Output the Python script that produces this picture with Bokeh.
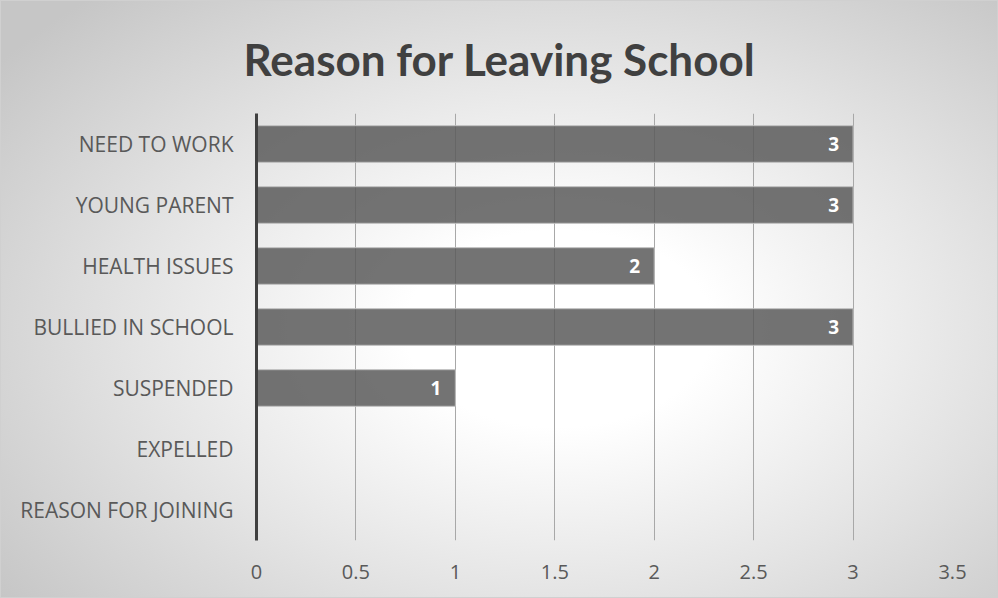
from bokeh.plotting import figure
from bokeh.models import Range1d, FactorRange, ColumnDataSource, LabelSet, FixedTicker
from bokeh.core.properties import value
from bokeh.embed import file_html
from bokeh.resources import INLINE

categories = ["NEED TO WORK", "YOUNG PARENT", "HEALTH ISSUES", "BULLIED IN SCHOOL",
              "SUSPENDED", "EXPELLED", "REASON FOR JOINING"]
values = [3, 3, 2, 3, 1, 0, 0]
x_ticks = [0, 0.5, 1, 1.5, 2, 2.5, 3, 3.5]

src = ColumnDataSource(dict(
    cat=[c for c, v in zip(categories, values) if v > 0],
    val=[v for v in values if v > 0],
    lbl=[str(v) for v in values if v > 0],
))

p = figure(width=998, height=598, output_backend="svg", toolbar_location=None,
           x_range=Range1d(0, 3.5), y_range=FactorRange(factors=categories[::-1]),
           min_border_left=255, min_border_right=47, min_border_top=112, min_border_bottom=59)

p.styles = {"background-image": "radial-gradient(ellipse 70% 75% at 56% 55%, #ffffff 0%, #ffffff 22%, #e4e4e4 60%, #c6c6c6 100%)",
            "border": "1px solid #d0d0d0", "box-sizing": "border-box"}
p.background_fill_alpha = 0
p.border_fill_alpha = 0
p.outline_line_color = None

p.title.text = "Reason for Leaving School"
p.title.text_font = "Lato"
p.title.text_font_style = "bold"
p.title.text_font_size = "44px"
p.title.text_color = "#404040"
p.title.align = "left"
p.title.offset = -13
p.title.standoff = 58

p.hbar(y="cat", right="val", left=0, height=0.6, source=src,
       fill_color="#5a5a5a", fill_alpha=0.85, line_color="#c0c0c0", line_width=1)

labels = LabelSet(x="val", y="cat", text="lbl", source=src, x_offset=-14,
                  text_align="right", text_baseline="middle", text_color="white",
                  text_font=value("Open Sans"), text_font_style="bold", text_font_size="19px")
p.add_layout(labels)

p.xaxis.ticker = FixedTicker(ticks=x_ticks)
p.xaxis.axis_line_color = None
p.xaxis.major_tick_line_color = None
p.xaxis.minor_tick_line_color = None
p.xaxis.major_label_standoff = 18
p.xaxis.major_label_text_font = "Open Sans"
p.xaxis.major_label_text_font_size = "20px"
p.xaxis.major_label_text_color = "#595959"

p.yaxis.axis_line_color = "#404040"
p.yaxis.axis_line_width = 3
p.yaxis.major_tick_line_color = None
p.yaxis.minor_tick_line_color = None
p.yaxis.major_label_standoff = 17
p.yaxis.major_label_text_font = "Open Sans"
p.yaxis.major_label_text_font_size = "21px"
p.yaxis.major_label_text_color = "#595959"

p.xgrid.grid_line_color = "#a8a8a8"
p.xgrid.grid_line_width = 1
p.ygrid.grid_line_color = None

open("out.html", "w").write(file_html(p, INLINE))
